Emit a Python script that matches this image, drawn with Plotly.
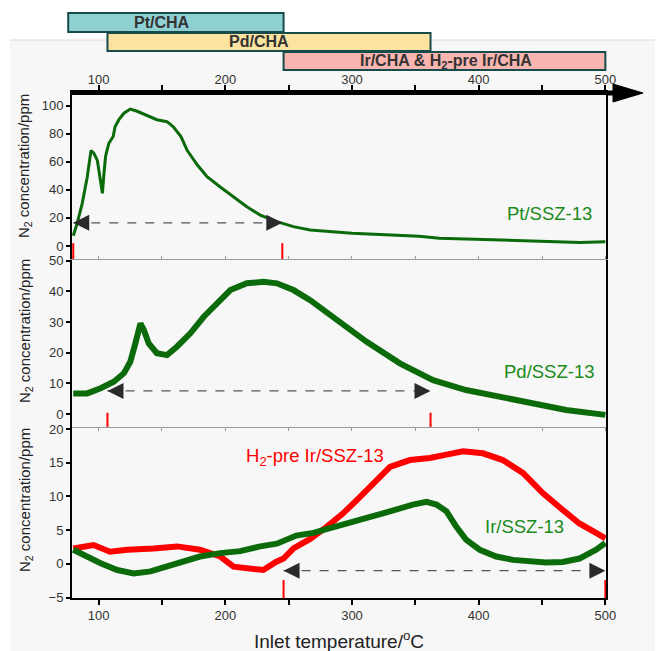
import plotly.graph_objects as go

# ---------------- data ----------------
pt_temp = [80, 83, 87, 91, 94, 96.3, 99, 101, 103, 104, 105.5, 108, 111.5, 113, 116, 120, 125, 130.5,
           138, 146, 154, 159, 165, 170, 178, 185.6, 196, 206.5, 217, 227.6, 240.7, 253.8, 267, 300,
           330, 353, 369, 400, 430, 450, 480, 500]
pt_n2 = [7.3, 16, 30, 49, 68, 66, 61, 49, 37.5, 49, 64, 73, 78, 85, 90, 94.6, 97.6, 96,
         93, 90, 88.6, 85, 78, 68, 57.7, 49.4, 42, 35, 28, 22, 17.3, 13.8, 11.4, 9,
         8, 7, 5.5, 4.8, 4, 3.5, 2.5, 3]

pd_temp = [80, 91, 101.6, 112, 120, 125, 129, 133, 135.7, 139.6, 146, 154, 162, 172.4, 183, 193.5,
           204, 217, 230, 240.7, 253.8, 267, 280, 293, 311.6, 337.8, 364, 390, 416.5, 442.8, 469, 500]
pd_n2 = [6.7, 6.7, 8.4, 10.5, 13.3, 17, 23, 29.5, 27.4, 23, 19.8, 19.2, 22, 26.3, 31.7, 36,
         40.4, 42.6, 43.1, 42.6, 40.4, 37.1, 33.3, 29.5, 23.5, 16.5, 11, 7.8, 5.6, 3.5, 1.3, -0.3]

h2ir_temp = [80, 96, 109, 122.6, 143.5, 162, 180, 196, 206.5, 217, 230, 240, 246, 253.8, 267, 280,
             293, 304, 316.8, 330, 345.7, 361.4, 374.6, 387.6, 403.4, 419, 434.9, 450.6, 466.4,
             479.5, 492.7, 500]
h2ir_n2 = [2.3, 2.8, 1.8, 2.1, 2.3, 2.6, 2.1, 1.1, -0.4, -0.6, -0.9, 0.3, 0.8, 2.3, 3.7, 5.5,
           7.5, 9.5, 12, 14.4, 15.4, 15.7, 16.2, 16.7, 16.4, 15.4, 13.5, 10.5, 8,
           6, 4.6, 3.8]

ir_temp = [80, 88, 101.6, 114.7, 127.8, 141, 154, 167, 180, 196, 211.8, 227.6, 240.7, 256, 269.5,
           282.7, 301, 309, 330, 348, 358.8, 366.7, 374.6, 382.4, 390, 400.8, 413.9, 427, 440, 453,
           466.4, 479.5, 492.7, 500]
ir_n2 = [2.1, 1.3, 0.1, -0.9, -1.4, -1.1, -0.4, 0.3, 1.1, 1.6, 1.9, 2.6, 3.0, 4.2, 4.6,
         5.3, 6.2, 6.6, 7.8, 8.8, 9.2, 8.8, 7.8, 5.5, 3.6, 2.1, 1.1, 0.6, 0.3, 0.2,
         0.3, 0.8, 2.1, 3.1]

# operating windows (°C) and level of the dashed window arrows (ppm)
window_pt = [80, 245]
window_pd = [107, 362]
window_ir = [246, 500]
arrow_level = [16.5, 7.5, -1.0]

# CHA bars on top
cha_names = ["Pt/CHA", "Pd/CHA", "Ir/CHA &amp; H<sub>2</sub>-pre Ir/CHA"]
cha_start = [76, 107, 246]
cha_end = [246, 362, 500]

y1_ticks = [0, 20, 40, 60, 80, 100]
y2_ticks = [0, 10, 20, 30, 40, 50]
y3_ticks = [-5, 0, 5, 10, 15, 20]

series_labels = ["Pt/SSZ-13", "Pd/SSZ-13", "Ir/SSZ-13", "H<sub>2</sub>-pre Ir/SSZ-13"]

# ---------------- geometry / styles ----------------
OFF = 8                      # page body margin of the html page
W, H = 663 - OFF, 651 - OFF
L_REF, R_REF = 72, 606       # plot area edges in reference pixels
XR = [79, 500.5]
YR1 = [-10, 107.6]
YR2 = [-4.25, 50.2]
YR3 = [-5.05, 20.3]


def fx(px):
    return (px - L_REF) / (R_REF - L_REF)


def fy(py):
    return 1 - (py - OFF) / H


def tx(t):
    return (t - XR[0]) / (XR[1] - XR[0])


GREEN = "#0b6b0b"
LABEL_GREEN = "#1a8a1a"
RED = "#ff0000"
FONT = "Liberation Sans, Arial, sans-serif"
TICKC = "#333333"

fig = go.Figure()

fig.add_trace(go.Scatter(x=pt_temp, y=pt_n2, mode="lines", line=dict(color=GREEN, width=3),
                         xaxis="x", yaxis="y"))
fig.add_trace(go.Scatter(x=pd_temp, y=pd_n2, mode="lines", line=dict(color=GREEN, width=6),
                         xaxis="x2", yaxis="y2"))
fig.add_trace(go.Scatter(x=h2ir_temp, y=h2ir_n2, mode="lines", line=dict(color=RED, width=6),
                         xaxis="x3", yaxis="y3"))
fig.add_trace(go.Scatter(x=ir_temp, y=ir_n2, mode="lines", line=dict(color=GREEN, width=6),
                         xaxis="x3", yaxis="y3"))

panels = [("x", "y", window_pt, arrow_level[0], YR1, 2.0),
          ("x2", "y2", window_pd, arrow_level[1], YR2, 0.4),
          ("x3", "y3", window_ir, arrow_level[2], YR3, -2.4)]

annotations = []
for xa, ya, win, lvl, yr, tick_top in panels:
    for t in win:
        fig.add_trace(go.Scatter(x=[t, t], y=[tick_top, yr[0]], mode="lines",
                                 line=dict(color=RED, width=2), xaxis=xa, yaxis=ya))
    fig.add_trace(go.Scatter(x=win, y=[lvl, lvl], mode="lines",
                             line=dict(color="#555555", width=1.3, dash="dash"),
                             xaxis=xa, yaxis=ya))
    for t, off in ((win[0], 14), (win[1], -14)):
        annotations.append(dict(x=t, y=lvl, xref=xa, yref=ya, ax=off, ay=0, text="",
                                showarrow=True, arrowhead=2, arrowsize=2.0, arrowwidth=1.6,
                                arrowcolor="#2a2a2a", standoff=0))

lab_font = dict(family=FONT, size=18.5, color=LABEL_GREEN)
annotations += [
    dict(x=456, y=22.8, xref="x", yref="y", text=series_labels[0], showarrow=False,
         xanchor="center", yanchor="middle", font=lab_font),
    dict(x=456, y=14, xref="x2", yref="y2", text=series_labels[1], showarrow=False,
         xanchor="center", yanchor="middle", font=lab_font),
    dict(x=436, y=5.5, xref="x3", yref="y3", text=series_labels[2], showarrow=False,
         xanchor="center", yanchor="middle", font=lab_font),
    dict(x=270.7, y=15.9, xref="x3", yref="y3", text=series_labels[3], showarrow=False,
         xanchor="center", yanchor="middle", font=dict(family=FONT, size=18.5, color=RED)),
]

for cy in (166, 331, 500):
    annotations.append(dict(x=fx(25), y=fy(cy), xref="paper", yref="paper",
                            xanchor="center", yanchor="middle",
                            text="N<sub>2</sub> concentration/ppm", textangle=-90,
                            showarrow=False, font=dict(family=FONT, size=15, color="#222222")))
annotations.append(dict(x=fx(339), y=fy(640), xref="paper", yref="paper",
                        xanchor="center", yanchor="middle",
                        text="Inlet temperature/<sup>o</sup>C", showarrow=False,
                        font=dict(family=FONT, size=19, color="#222222")))

shapes = [
    dict(type="rect", xref="paper", yref="paper", x0=fx(10), x1=fx(670), y0=fy(660), y1=fy(40),
         fillcolor="#f7f7f7", line=dict(width=0), layer="below"),
    dict(type="line", xref="paper", yref="paper", x0=fx(10), x1=fx(670), y0=fy(40), y1=fy(40),
         line=dict(color="#d9d9d9", width=1), layer="below"),
    dict(type="line", xref="paper", yref="paper", x0=1.0, x1=fx(618), y0=fy(93), y1=fy(93),
         line=dict(color="black", width=5)),
    dict(type="path", xref="paper", yref="paper",
         path=f"M {fx(613)},{fy(84)} L {fx(643)},{fy(93)} L {fx(613)},{fy(102)} Z",
         fillcolor="black", line=dict(color="black", width=1)),
]

bar_fill = ["#8fd0d3", "#fde3a0", "#f9b5b0"]
bar_rows = [(13, 32), (33, 51), (52, 70)]
bar_text_center = [150, 226.5, 374]
for name, s, e, fc, (top, bot), tc in zip(cha_names, cha_start, cha_end, bar_fill, bar_rows,
                                          bar_text_center):
    shapes.append(dict(type="rect", xref="paper", yref="paper", x0=tx(s), x1=tx(e),
                       y0=fy(bot), y1=fy(top), fillcolor=fc,
                       line=dict(color="#174a4a", width=2)))
    annotations.append(dict(x=tx(tc), y=fy((top + bot) / 2), xref="paper", yref="paper",
                            xanchor="center", yanchor="middle", text=name, showarrow=False,
                            font=dict(family=FONT, size=16, color="#333333", weight="bold")))

tickfont = dict(family=FONT, size=13, color=TICKC)
xcommon = dict(range=XR, showgrid=False, zeroline=False, tick0=0, dtick=100, tickfont=tickfont)
ycommon = dict(showline=True, linecolor="black", linewidth=2, mirror=True, ticks="outside",
               ticklen=4, tickwidth=1.5, tickcolor="black", showgrid=False, zeroline=False,
               tickfont=tickfont)

fig.update_layout(
    width=W, height=H,
    margin=dict(l=L_REF - OFF, r=W - (R_REF - OFF), t=0, b=0),
    paper_bgcolor="white", plot_bgcolor="rgba(0,0,0,0)",
    template="none", showlegend=False,
    font=dict(family=FONT),
    xaxis=dict(**xcommon, anchor="y", side="top", showline=True, linecolor="black", linewidth=5,
               ticks="outside", ticklen=5, tickwidth=1.5, tickcolor="black",
               ticklabelstandoff=-4,
               minor=dict(dtick=50, tick0=0, ticks="outside", ticklen=5, tickwidth=1.5,
                          tickcolor="black")),
    xaxis2=dict(**xcommon, anchor="y2", side="top", showline=True, linecolor="#9a9a9a",
                linewidth=1, mirror="ticks", ticks="outside", ticklen=3, tickcolor="#9a9a9a",
                showticklabels=False,
                minor=dict(dtick=50, tick0=0, ticks="outside", ticklen=3, tickcolor="#9a9a9a")),
    xaxis3=dict(**xcommon, anchor="y3", side="bottom", showline=True, linecolor="black",
                linewidth=1.5, ticks="outside", ticklen=5, tickwidth=1.5, tickcolor="black",
                minor=dict(dtick=50, tick0=0, ticks="outside", ticklen=5, tickwidth=1.5,
                           tickcolor="black")),
    yaxis=dict(**ycommon, domain=[fy(260), fy(95)], range=YR1, tickvals=y1_ticks),
    yaxis2=dict(**ycommon, domain=[fy(427), fy(260)], range=YR2, tickvals=y2_ticks),
    yaxis3=dict(**ycommon, domain=[fy(598), fy(427)], range=YR3, tickvals=y3_ticks),
    shapes=shapes,
    annotations=annotations,
)

fig.write_html("out.html")
